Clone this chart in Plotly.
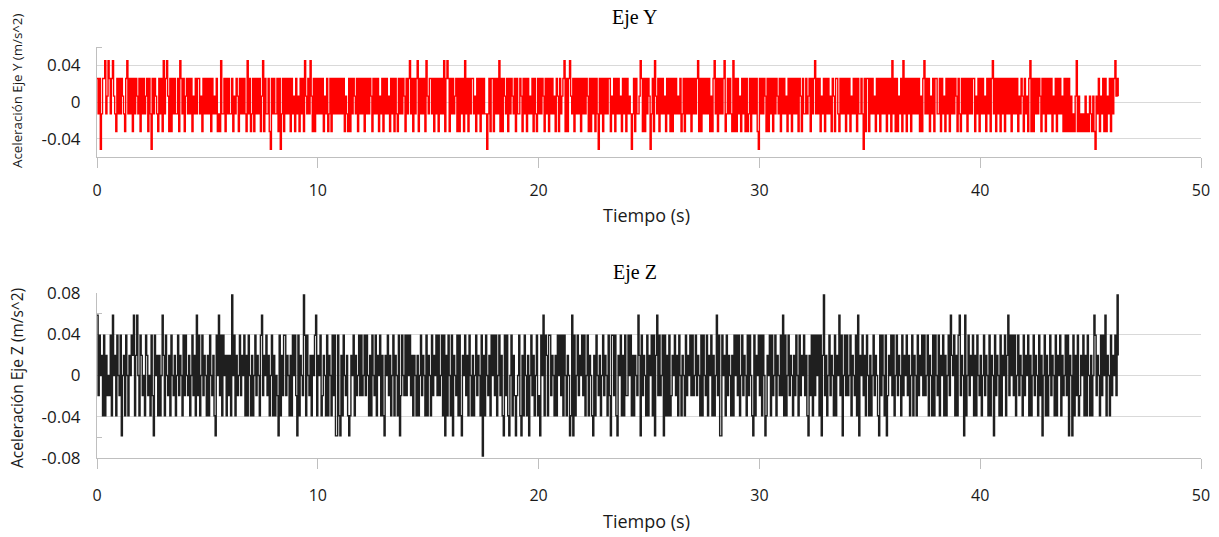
import plotly.graph_objects as go

# Sampling interval of the accelerometer log (seconds)
DT = 0.05

# Quantised acceleration levels (m/s^2) for each axis
Y_LEVELS = [-0.0515, -0.0322, -0.0129, 0.0064, 0.0257, 0.045]
Z_LEVELS = [-0.078, -0.0585, -0.039, -0.0195, 0.0, 0.0195, 0.039, 0.0585, 0.078]

# Samples stored as indices into the level tables, 50 samples per row
Y_CODES = """
4240244523 5424532142 4243214524 2414243241 4242341420
4243214241 5245314142 4224154241 3424241324 2442314242
4241423241 2152241424 2241324314 2424215241 2414242413
5142241042 4224140241 4242414231 4231424153 2425314142
4242413241 2414242424 2424132141 4243241424 2414242431
4242413241 4242314241 4214242431 4245241424 5142424153
2442414241 4242514541 4242341414 2415241424 4231424142
4220241441 4242514143 2414243241 4224314241 4232414214
2424314241 4242314314 2345141453 2414242414 2424314142
4142042414 2424413241 4242314241 4232024142 2354141424
3024153241 4242314241 4142423241 2414242414 2424514142
4242413145 2414242451 2424215141 4231424141 2414242410
4242431414 2414243241 4242314241 4242414314 2242341424
5242413241 4242314314 4214242414 2413242414 2242041441
4242314241 4242414241 5241413241 5241424142 4242413145
2424132414 4224142314 2414242431 4214242414 2424413241
4242314241 4524142414 2414242414 2424132431 4231451414
2424314241 4242413241 4242314141 4131213513 1212131213
2131032413 2414132414 245343
"""

Z_CODES = """
7364526253 4362745264 3614526425 4657257426 5342653426
3164525247 5264352643 5246354263 6435246352 7362463542
5264352164 7362645253 5284625346 3546252642 5246354267
3546352462 5243162536 6354252646 3162543862 6435254672
5462354262 5426361162 1526435212 5462534636 3463642526
4362546252 1546352462 5426136436 3646352542 5246354262
5426354636 3462615264 2615436262 1546352642 5246354260
5264352646 3624635216 3621462531 3462152642 5146352462
3164726526 6354252646 3626425412 7162463546 3624625421
5264352463 5426316636 2154625263 3646252543 7516354262
5462615736 3461625262 3546352642 5426354636 3463542626
4362546252 4736116452 6354252646 3624635426 3642162546
3626412546 2634625436 3726246354 2536426354 6352153626
3646261583 5246354262 5473614636 3462543627 1546352642
5246354216 3642613546 3624635426 3546352462 5426354636
3462542626 4362546252 4637546252 6735417246 3546252643
5246354262 5416354262 5462573646 3624635426 3546252463
5426351462 5246354262 5462534636 1541625362 3546252642
5247635426 3647254263 546385
"""

X_TICKS = [0, 10, 20, 30, 40, 50]
Y_TICKS_TOP = [-0.04, 0, 0.04]
Y_TICKS_BOTTOM = [-0.08, -0.04, 0, 0.04, 0.08]


def decode(codes, levels):
    return [levels[int(c)] for c in codes if c.isdigit()]


acc_y = decode(Y_CODES, Y_LEVELS)
acc_z = decode(Z_CODES, Z_LEVELS)
t_y = [round(i * DT, 2) for i in range(len(acc_y))]
t_z = [round(i * DT, 2) for i in range(len(acc_z))]

SANS = "Open Sans"
SERIF = "Liberation Serif"
TXT = "#1a1a1a"
GRID = "#d9d9d9"
AXIS = "#bfbfbf"


def tick_text(vals):
    return ["0" if v == 0 else ("%g" % v) for v in vals]


fig = go.Figure()
fig.add_trace(go.Scatter(x=t_y, y=acc_y, mode="lines",
                         line=dict(color="#ff0000", width=1.4, shape="hv"),
                         xaxis="x", yaxis="y", hoverinfo="skip"))
fig.add_trace(go.Scatter(x=t_z, y=acc_z, mode="lines",
                         line=dict(color="#1f1f1f", width=1.4, shape="hv"),
                         xaxis="x2", yaxis="y2", hoverinfo="skip"))

H = 537.0


def ydom(top_px, bottom_px):
    return [1 - bottom_px / H, 1 - top_px / H]


xcommon = dict(range=[0, 50], tickvals=X_TICKS, ticks="outside", ticklen=10,
               tickcolor=AXIS, showline=True, linecolor=AXIS, linewidth=1,
               showgrid=False, zeroline=False, automargin=False,
               tickfont=dict(family=SANS, size=16, color=TXT))
ycommon = dict(showgrid=True, gridcolor=GRID, gridwidth=1, showline=True,
               linecolor=AXIS, linewidth=1, zeroline=False, ticks="",
               automargin=False, ticklabelstandoff=12,
               tickfont=dict(family=SANS, size=17, color=TXT))

fig.update_layout(
    width=1219, height=537,
    margin=dict(l=97, r=18, t=0, b=0, autoexpand=False),
    paper_bgcolor="white", plot_bgcolor="white",
    showlegend=False,
    xaxis=dict(domain=[0, 1], anchor="y", ticklabelstandoff=9, **xcommon),
    xaxis2=dict(domain=[0, 1], anchor="y2", ticklabelstandoff=13, **xcommon),
    yaxis=dict(domain=ydom(47, 157), anchor="x", range=[-0.06, 0.06],
               tickvals=Y_TICKS_TOP, ticktext=tick_text(Y_TICKS_TOP),
               minor=dict(tickvals=[0.06], ticks="inside", ticklen=5,
                          tickcolor=AXIS, showgrid=False),
               **ycommon),
    yaxis2=dict(domain=ydom(293, 458), anchor="x2", range=[-0.08, 0.08],
                tickvals=Y_TICKS_BOTTOM, ticktext=tick_text(Y_TICKS_BOTTOM),
                minor=dict(tickvals=[-0.06, 0.06], ticks="inside", ticklen=5,
                           tickcolor=AXIS, showgrid=False),
                **ycommon),
)

annots = [
    dict(text="Eje Y", x=0.487, y=1 - 17 / H, font=dict(family=SERIF, size=20)),
    dict(text="Eje Z", x=0.487, y=1 - 272 / H, font=dict(family=SERIF, size=20)),
    dict(text="Tiempo (s)", x=0.498, y=1 - 215 / H, font=dict(family=SANS, size=18)),
    dict(text="Tiempo (s)", x=0.498, y=1 - 521 / H, font=dict(family=SANS, size=18)),
    dict(text="Aceleración Eje Y (m/s^2)", x=-0.0725, y=1 - 91 / H,
         textangle=-90, font=dict(family=SANS, size=13.3)),
    dict(text="Aceleración Eje Z (m/s^2)", x=-0.0725, y=1 - 378 / H,
         textangle=-90, font=dict(family=SANS, size=15.5)),
]
for a in annots:
    a["font"]["color"] = "black" if a["font"]["family"] == SERIF else TXT
    fig.add_annotation(xref="paper", yref="paper", showarrow=False,
                       xanchor="center", yanchor="middle", **a)

fig.write_html("out.html")
